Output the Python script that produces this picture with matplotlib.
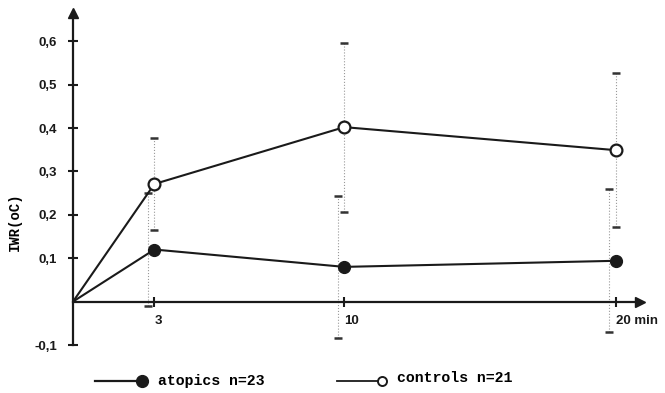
"""IWR over time, atopics vs controls"""

import numpy as np
import matplotlib
matplotlib.use('Agg')
import matplotlib.pyplot as plt
from matplotlib.lines import Line2D

# data
minutes = [0, 3, 10, 20]
atopics_mean = [0.0, 0.12, 0.08, 0.094]
atopics_sd = [0.0, 0.131, 0.163, 0.165]
controls_mean = [0.0, 0.271, 0.402, 0.349]
controls_sd = [0.0, 0.106, 0.195, 0.177]

x_ticks = [3, 10, 20]
x_labels = ['3', '10', '20 min']
y_ticks = [-0.1, 0.1, 0.2, 0.3, 0.4, 0.5, 0.6]
y_labels = ['-0,1', '0,1', '0,2', '0,3', '0,4', '0,5', '0,6']

INK = '#1a1a1a'
W, H = 665, 393

fig = plt.figure(figsize=(W / 100, H / 100), dpi=100)
ax = fig.add_axes([73 / W, 48 / H, 567 / W, 332 / H])
ax.set_xlim(0, 20.9)
ax.set_ylim(-0.1, 0.665)

# axes as arrows
for s in ['top', 'right']:
    ax.spines[s].set_visible(False)
ax.spines['bottom'].set_position(('data', 0))
ax.spines['left'].set_linewidth(1.6)
ax.spines['bottom'].set_linewidth(1.6)
ax.spines['left'].set_color(INK)
ax.spines['bottom'].set_color(INK)
ax.plot(1, 0, '>', color=INK, ms=7, transform=ax.get_yaxis_transform(), clip_on=False)
ax.plot(0, 1, '^', color=INK, ms=7, transform=ax.get_xaxis_transform(), clip_on=False)

ax.set_xticks(x_ticks)
ax.set_xticklabels(x_labels, ha='left', fontsize=9.5, fontweight='bold',
                   family='Liberation Sans')
ax.set_yticks(y_ticks)
ax.set_yticklabels(y_labels, fontsize=9.5, fontweight='bold', family='Liberation Sans')
ax.tick_params(axis='both', direction='inout', length=7, width=1.5, colors=INK)
ax.tick_params(axis='x', pad=6)
ax.tick_params(axis='y', pad=8)

ax.set_ylabel('IWR(oC)', family='Liberation Mono', fontweight='bold', fontsize=10)
ax.yaxis.set_label_coords(-0.09, 0.37)

# error bars, atopics nudged a little to the left
t = np.array(minutes[1:], dtype=float)
for means, sds, dx in [(atopics_mean, atopics_sd, -0.25), (controls_mean, controls_sd, 0.0)]:
    eb = ax.errorbar(t + dx, means[1:], yerr=sds[1:], fmt='none',
                     ecolor='0.6', elinewidth=0.8, capsize=3, capthick=1.8)
    eb[2][0].set_linestyle(':')
    for c in eb[1]:
        c.set_markeredgecolor('0.2')
        c.set_color('0.2')

ax.plot(minutes, atopics_mean, color=INK, lw=1.5, zorder=3)
ax.plot(minutes[1:], atopics_mean[1:], 'o', color=INK, ms=8.5, zorder=4)
ax.plot(minutes, controls_mean, color=INK, lw=1.5, zorder=3)
ax.plot(minutes[1:], controls_mean[1:], 'o', mfc='white', mec=INK, mew=1.6,
        ms=8.5, zorder=4)

# legend below the plot
ly = 1 - 381 / H
fig.add_artist(Line2D([95 / W, 140 / W], [ly, ly], color=INK, lw=1.6))
fig.add_artist(Line2D([142 / W], [ly], marker='o', color=INK, ms=8.5))
fig.text(158 / W, ly, 'atopics n=23', family='Liberation Mono', fontweight='bold',
         fontsize=10.7, va='center')
fig.add_artist(Line2D([337 / W, 378 / W], [ly, ly], color=INK, lw=1.3))
fig.add_artist(Line2D([382 / W], [ly], marker='o', mfc='white', mec=INK, mew=1.4, ms=6.5))
fig.text(397 / W, ly + 0.008, 'controls n=21', family='Liberation Mono', fontweight='bold',
         fontsize=10.7, va='center')

plt.savefig('out.png', dpi=100)
